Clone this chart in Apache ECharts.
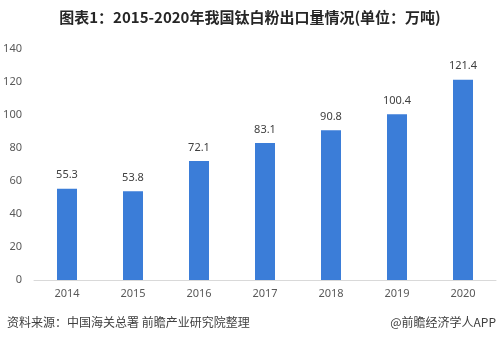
<!DOCTYPE html>
<html>
<head>
<meta charset="utf-8">
<script src="https://cdn.jsdelivr.net/npm/echarts@6/dist/echarts.min.js"></script>
<style>
  html, body { margin: 0; padding: 0; background: #fff; }
  #chart { width: 500px; height: 339px; }
</style>
</head>
<body>
<div id="chart"></div>
<script>
// 2014-2020 titanium dioxide exports (10k tonnes)
const years = ['2014', '2015', '2016', '2017', '2018', '2019', '2020'];
const exportVolume = [55.3, 53.8, 72.1, 83.1, 90.8, 100.4, 121.4];
const yTicks = { min: 0, max: 140, interval: 20 };

const chart = echarts.init(document.getElementById('chart'));
chart.setOption({
  animation: false,
  backgroundColor: '#ffffff',
  title: {
    text: '图表1：2015-2020年我国钛白粉出口量情况(单位：万吨)',
    left: 'center',
    top: 5,
    textStyle: {
      fontFamily: 'Noto Sans CJK SC',
      fontSize: 15,
      fontWeight: 'bold',
      color: '#262626'
    }
  },
  grid: { left: 34, right: 4, top: 49, bottom: 59, containLabel: false },
  xAxis: {
    type: 'category',
    data: years,
    axisLine: { lineStyle: { color: '#d9d9d9' } },
    axisTick: { show: false },
    axisLabel: { color: '#595959', fontSize: 11, margin: 8, fontFamily: 'Noto Sans' }
  },
  yAxis: {
    type: 'value',
    min: yTicks.min,
    max: yTicks.max,
    interval: yTicks.interval,
    axisLine: { show: false },
    axisTick: { show: false },
    splitLine: { show: false },
    axisLabel: { color: '#595959', fontSize: 11, margin: 12, fontFamily: 'Noto Sans' }
  },
  series: [{
    type: 'bar',
    data: exportVolume,
    barWidth: 20,
    itemStyle: { color: '#3b7dd8' },
    label: {
      show: true,
      position: 'top',
      distance: 8,
      color: '#404040',
      fontSize: 11,
      fontFamily: 'Noto Sans'
    }
  }],
  graphic: [
    {
      type: 'text',
      left: 7,
      top: 316,
      style: {
        text: '资料来源：中国海关总署 前瞻产业研究院整理',
        fill: '#404040',
        font: '12px "Noto Sans CJK SC"'
      }
    },
    {
      type: 'text',
      right: 4,
      top: 316,
      style: {
        text: '@前瞻经济学人APP',
        fill: '#404040',
        font: '12px "Noto Sans CJK SC"'
      }
    }
  ]
});
</script>
</body>
</html>
